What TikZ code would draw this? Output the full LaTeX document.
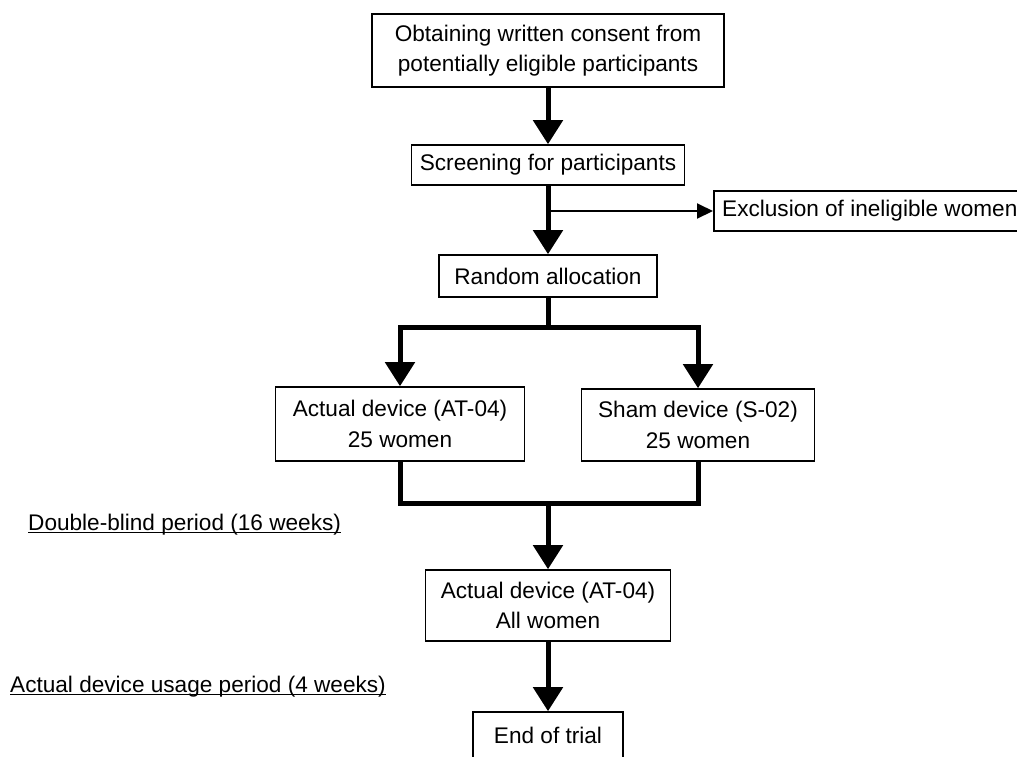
\documentclass[tikz,border=0pt]{standalone}
\usepackage{fontspec}
\setmainfont{Liberation Sans}
\usetikzlibrary{arrows.meta,positioning,calc}

\begin{document}
\begin{tikzpicture}[x=1pt,y=-1pt,
  font=\fontsize{22.6}{30.5}\selectfont,
  box/.style={draw=black,line width=1.6pt,align=center,inner sep=4pt},
  bar/.style={line width=5pt},
  flow/.style={bar,-{Triangle[width=29pt,length=24pt]}},
  split/.style={bar,{Triangle[width=29pt,length=24pt]}-{Triangle[width=29pt,length=24pt]}},
  side/.style={line width=2pt,-{Triangle[width=15pt,length=16pt]}},
  period/.style={inner sep=0pt,anchor=base west}]
  \useasboundingbox (0,0) rectangle (1017,756);
  % boxes
  \node[box,minimum width=352pt,minimum height=73pt] (consent) at (548,50.5) {Obtaining written consent from\\potentially eligible participants};
  \node[box,minimum width=273pt,minimum height=40pt] (screen) at (548,165) {Screening for participants};
  \node[box,minimum width=312pt,minimum height=40pt,anchor=west] (excl) at (713,211) {Exclusion of ineligible women};
  \node[box,minimum width=218pt,minimum height=42pt] (random) at (548,276) {Random allocation};
  \node[box,minimum width=249pt,minimum height=74pt] (actual) at (400,424) {Actual device (AT-04)\\25 women};
  \node[box,minimum width=233pt,minimum height=72pt] (sham) at (698,425) {Sham device (S-02)\\25 women};
  \node[box,minimum width=245pt,minimum height=71pt] (final) at (548,605.5) {Actual device (AT-04)\\All women};
  \node[box,minimum width=150pt,minimum height=46pt] (trial) at (548,735) {End of trial};
  % periods
  \node[period] (blind) at (28,530) {Double-blind period (16 weeks)};
  \node[period] (usage) at (10,692) {Actual device usage period (4 weeks)};
  \draw[line width=1.3pt] ([yshift=-2.5pt]blind.base west) -- ([yshift=-2.5pt]blind.base east);
  \draw[line width=1.3pt] ([yshift=-2.5pt]usage.base west) -- ([yshift=-2.5pt]usage.base east);
  % connectors
  \coordinate (out) at (screen.south |- excl);
  \coordinate (fork) at (548,327);
  \coordinate (merge) at (548,503);
  \draw[flow] (consent) -- (screen);
  \draw[flow] (screen) -- (random);
  \draw[side] (out) -- (excl);
  \draw[bar] (random) -- (fork);
  \draw[split] (actual.north) |- (fork) -| (sham.north);
  \draw[bar] (actual.south) |- (merge) -| (sham.south);
  \draw[flow] (merge) -- (final);
  \draw[flow] (final) -- (trial);
\end{tikzpicture}
\end{document}
